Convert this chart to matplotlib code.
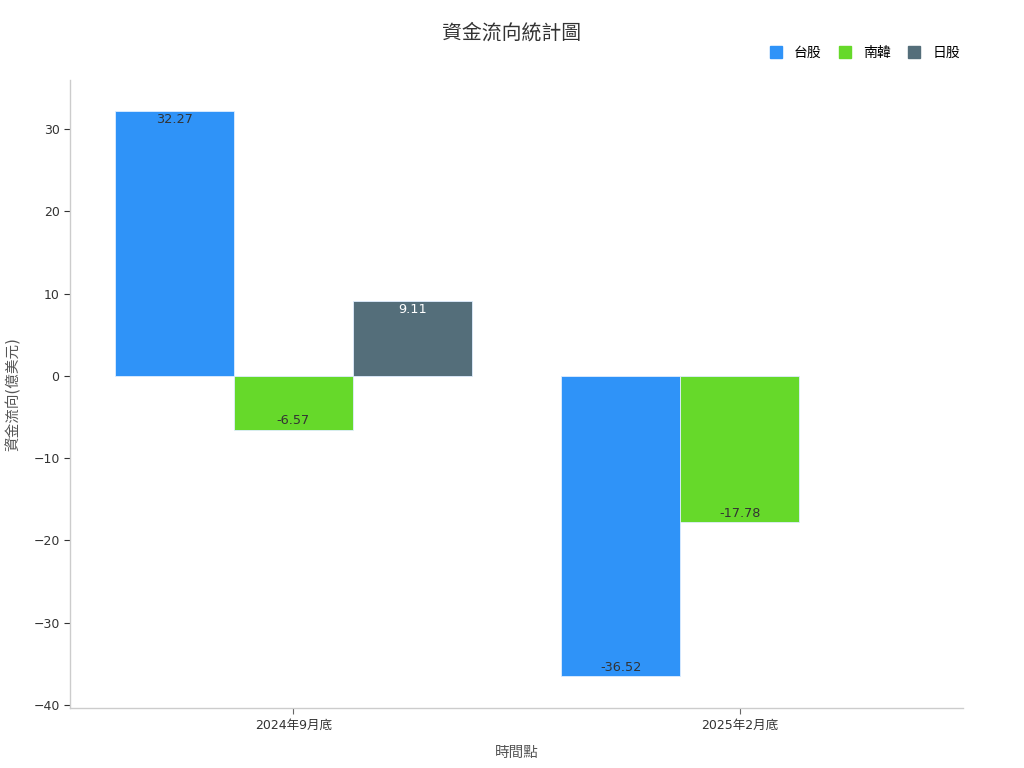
import numpy as np
import matplotlib.pyplot as plt
from matplotlib.lines import Line2D

plt.rcParams['font.family'] = ['DejaVu Sans', 'Noto Sans CJK TC']
plt.rcParams['font.size'] = 10

# --- data ---
periods = ['2024年9月底', '2025年2月底']
series_names = ['台股', '南韓', '日股']
taiwan = [32.27, -36.52]
korea = [-6.57, -17.78]
japan = [9.11, np.nan]
colors = ['#2F93F8', '#66D92A', '#546E7A']
label_colors = ['#333333', '#333333', '#ffffff']

fig = plt.figure(figsize=(10.24, 7.68), dpi=100)
ax = fig.add_axes([0.0684, 0.078, 0.872, 0.818])

x = np.arange(len(periods))
width = 0.8 / 3
for i, (vals, c, lc) in enumerate(zip([taiwan, korea, japan], colors, label_colors)):
    pos = x + (i - 1) * width
    ax.bar(pos, vals, width=width, color=c, edgecolor='#dfeeff', linewidth=0.6)
    for px, v in zip(pos, vals):
        if np.isnan(v):
            continue
        off = -9 if v > 0 else 9
        ax.annotate(f'{v:.2f}', (px, v), xytext=(0, off * 0.72), textcoords='offset points',
                    ha='center', va='center', color=lc, fontsize=9.3)

ax.set_xlim(-0.5, 1.5)
ax.set_ylim(-40.4, 36)
ax.set_yticks([-40, -30, -20, -10, 0, 10, 20, 30])
ax.set_xticks(x)
ax.set_xticklabels(periods)
ax.tick_params(axis='both', colors='#333333', labelsize=9, length=4, width=0.8)
ax.tick_params(axis='x', color='#666666')
for s in ['top', 'right']:
    ax.spines[s].set_visible(False)
for s in ['left', 'bottom']:
    ax.spines[s].set_color('#cccccc')
    ax.spines[s].set_linewidth(1)

ax.set_xlabel('時間點', fontsize=10.5, color='#555555', labelpad=10)
ax.set_ylabel('資金流向(億美元)', fontsize=10.5, color='#555555')
ax.yaxis.set_label_coords(-0.055, 0.5)
fig.text(0.5, 0.957, '資金流向統計圖', ha='center', va='center', fontsize=14.3, color='#333333')

handles = [Line2D([0], [0], marker='s', linestyle='none', markersize=8, color=c) for c in colors]
fig.legend(handles, series_names, loc='center right', bbox_to_anchor=(0.95, 0.931), ncol=3,
           frameon=False, fontsize=10, handletextpad=0.8, columnspacing=1.2, handlelength=1)

fig.savefig('out.png', dpi=100)
